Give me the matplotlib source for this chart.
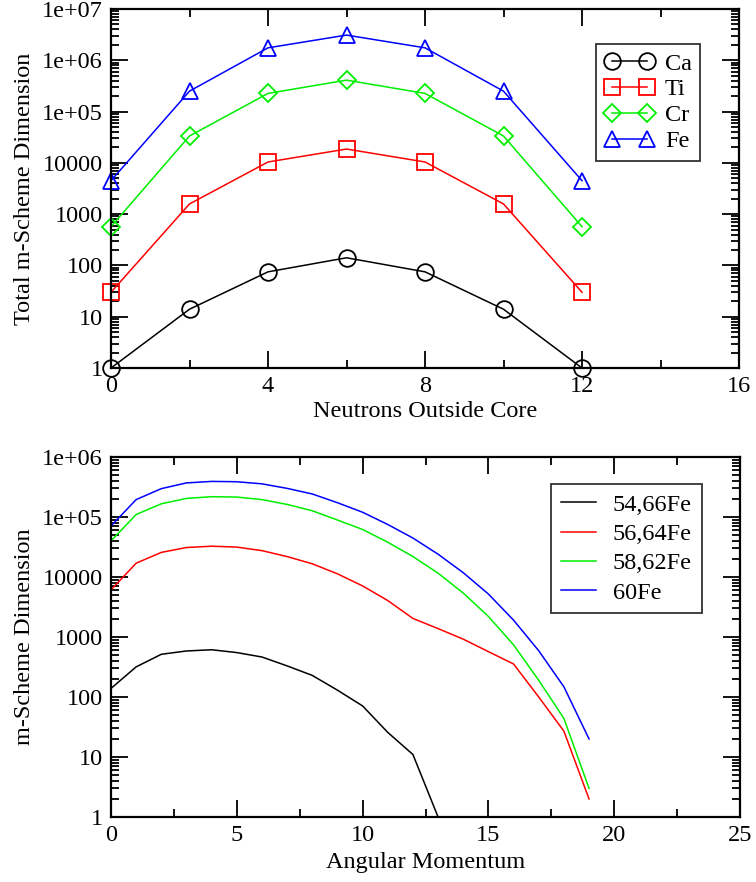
import math
import matplotlib
matplotlib.use('Agg')
import matplotlib.pyplot as plt
from matplotlib.ticker import FuncFormatter, LogLocator, MultipleLocator, NullFormatter

plt.rcParams['font.family'] = 'Liberation Serif'
plt.rcParams['font.size'] = 17.5

# top panel: total m-scheme dimension vs neutrons outside core
neutrons = [0, 2, 4, 6, 8, 10, 12]
ca = [1, 14, 75, 141, 75, 14, 1]
ti = [30, 1580, 10400, 18600, 10400, 1580, 30]
cr = [570, 33400, 226000, 410000, 226000, 33400, 570]
fe = [4500, 250000, 1750000, 3100000, 1750000, 250000, 4500]

# bottom panel: m-scheme dimension vs angular momentum
jj = list(range(0, 20))
fe5466 = [139, 318, 515, 585, 613, 550, 464, 330, 229, 130, 71, 25.7, 11, 1]
fe5664 = [6100, 17000, 25700, 31000, 32600, 31500, 27500, 21900, 16600, 11300,
          7100, 4050, 2040, 1380, 920, 570, 355, 100, 27, 2]
fe5862 = [40000, 110000, 166000, 204000, 218000, 215000, 195000, 162000, 127000, 89000,
          62000, 38000, 21900, 11600, 5400, 2200, 740, 190, 44, 3]
fe60 = [71000, 195000, 297000, 370000, 392000, 387000, 357000, 300000, 242000, 173000,
        120000, 75000, 44600, 24000, 11800, 5200, 1910, 590, 148, 20]


def ylab(v, pos):
    if v >= 1e5:
        return '1e+%02d' % round(math.log10(v))
    return '%d' % round(v)


def style(ax):
    ax.set_yscale('log')
    ax.yaxis.set_major_locator(LogLocator(base=10, numticks=20))
    ax.yaxis.set_minor_locator(LogLocator(base=10, subs=range(2, 10), numticks=20))
    ax.yaxis.set_major_formatter(FuncFormatter(ylab))
    ax.yaxis.set_minor_formatter(NullFormatter())
    ax.tick_params(which='both', direction='in', top=True, right=True, width=1.3)
    ax.tick_params(which='major', length=12.5, pad=6)
    ax.tick_params(which='minor', length=6)
    for s in ax.spines.values():
        s.set_linewidth(1.6)


fig = plt.figure(figsize=(7.56, 8.82), dpi=100)

ax1 = fig.add_axes([111 / 756, 1 - 368 / 882, 628 / 756, 359 / 882])
kw = dict(markerfacecolor='none', markeredgewidth=1.3, linewidth=1.1, clip_on=False)
ax1.plot(neutrons, ca, '-o', color='black', label='Ca', markersize=12, **kw)
ax1.plot(neutrons, ti, '-s', color='#ff0000', label='Ti', markersize=11, **kw)
ax1.plot(neutrons, cr, '-D', color='#00ee00', label='Cr', markersize=9.5, **kw)
ax1.plot(neutrons, fe, '-^', color='#0000ff', label='Fe', markersize=12, **kw)
ax1.set_xlim(0, 16)
ax1.set_ylim(1, 1e7)
style(ax1)
ax1.xaxis.set_major_locator(MultipleLocator(4))
ax1.xaxis.set_minor_locator(MultipleLocator(2))
ax1.set_xlabel('Neutrons Outside Core', labelpad=2.5)
ax1.set_ylabel('Total m-Scheme Dimension', labelpad=5)
leg = ax1.legend(loc='upper left', bbox_to_anchor=(0.772, 0.9025), borderaxespad=0,
                 fancybox=False, numpoints=2, handlelength=2.06, handletextpad=0.43,
                 labelspacing=0.16, borderpad=0.35, fontsize=17.5)
leg.get_frame().set_edgecolor('black')
leg.get_frame().set_linewidth(1.3)

ax2 = fig.add_axes([111 / 756, 1 - 817 / 882, 629 / 756, 360 / 882])
ax2.plot(jj[:len(fe5466)], fe5466, color='black', linewidth=1.1, label='54,66Fe')
ax2.plot(jj, fe5664, color='#ff0000', linewidth=1.1, label='56,64Fe')
ax2.plot(jj, fe5862, color='#00ee00', linewidth=1.1, label='58,62Fe')
ax2.plot(jj, fe60, color='#0000ff', linewidth=1.1, label='60Fe')
ax2.set_xlim(0, 25)
ax2.set_ylim(1, 1e6)
style(ax2)
ax2.xaxis.set_major_locator(MultipleLocator(5))
ax2.xaxis.set_minor_locator(MultipleLocator(2.5))
ax2.set_xlabel('Angular Momentum', labelpad=4)
ax2.set_ylabel('m-Scheme Dimension', labelpad=5)
leg2 = ax2.legend(loc='upper left', bbox_to_anchor=(0.6995, 0.925), borderaxespad=0,
                  fancybox=False, handlelength=1.46, handletextpad=0.69,
                  labelspacing=0.3, borderpad=0.4, fontsize=17.5)
leg2.get_frame().set_edgecolor('black')
leg2.get_frame().set_linewidth(1.3)

fig.savefig('out.png', dpi=100)
